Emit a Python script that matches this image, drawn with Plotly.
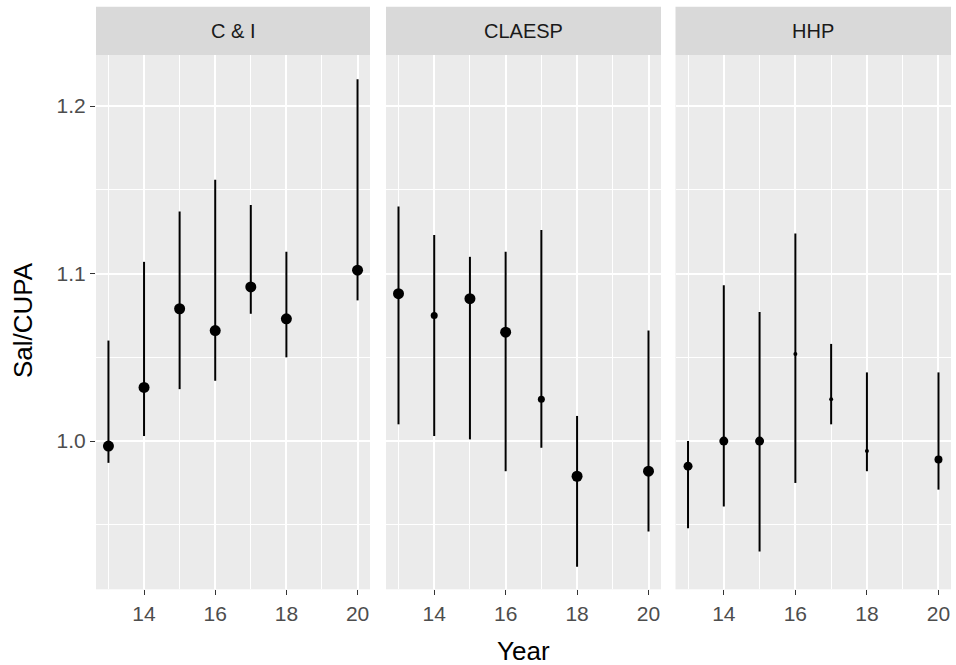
import plotly.graph_objects as go

# ---- data ----
panels = ["C & I", "CLAESP", "HHP"]

ci_year = [13, 14, 15, 16, 17, 18, 20]
ci_mid = [0.997, 1.032, 1.079, 1.066, 1.092, 1.073, 1.102]
ci_low = [0.987, 1.003, 1.031, 1.036, 1.076, 1.050, 1.084]
ci_high = [1.060, 1.107, 1.137, 1.156, 1.141, 1.113, 1.216]
ci_size = [11, 11, 11, 11, 11, 11, 11]

cl_year = [13, 14, 15, 16, 17, 18, 20]
cl_mid = [1.088, 1.075, 1.085, 1.065, 1.025, 0.979, 0.982]
cl_low = [1.010, 1.003, 1.001, 0.982, 0.996, 0.925, 0.946]
cl_high = [1.140, 1.123, 1.110, 1.113, 1.126, 1.015, 1.066]
cl_size = [11, 7, 11, 11, 7, 11, 11]

hh_year = [13, 14, 15, 16, 17, 18, 20]
hh_mid = [0.985, 1.000, 1.000, 1.052, 1.025, 0.994, 0.989]
hh_low = [0.948, 0.961, 0.934, 0.975, 1.010, 0.982, 0.971]
hh_high = [1.000, 1.093, 1.077, 1.124, 1.058, 1.041, 1.041]
hh_size = [9, 9, 9, 4, 4, 4, 8]

series = [
    (ci_year, ci_mid, ci_low, ci_high, ci_size),
    (cl_year, cl_mid, cl_low, cl_high, cl_size),
    (hh_year, hh_mid, hh_low, hh_high, hh_size),
]

x_ticks = [14, 16, 18, 20]
y_ticks = [1.0, 1.1, 1.2]

# ---- layout geometry ----
W, H = 956, 665
px_domains = [(96, 370), (386, 661), (675.5, 951)]
plot_top, plot_bot = 55, 589.3
strip_top = 6.7
y_dom = [1 - plot_bot / H, 1 - plot_top / H]

FONT = "Liberation Sans, Arial, sans-serif"

fig = go.Figure()
for i, (yr, mid, lo, hi, sz) in enumerate(series):
    ax = "" if i == 0 else str(i + 1)
    fig.add_trace(go.Scatter(
        x=yr, y=mid, mode="markers",
        marker=dict(color="black", size=sz, opacity=1, line=dict(width=0)),
        opacity=1,
        error_y=dict(type="data", symmetric=False,
                     array=[h - m for h, m in zip(hi, mid)],
                     arrayminus=[m - l for m, l in zip(mid, lo)],
                     width=0, thickness=2, color="black"),
        xaxis="x" + ax, yaxis="y" + ax, showlegend=False,
        hoverinfo="x+y",
    ))

layout = dict(
    width=W, height=H,
    margin=dict(l=0, r=0, t=0, b=0),
    paper_bgcolor="white", plot_bgcolor="#EBEBEB",
    font=dict(family=FONT, color="#4D4D4D"),
    showlegend=False,
)

shapes = []
annotations = []
for i, (x0, x1) in enumerate(px_domains):
    ax = "" if i == 0 else str(i + 1)
    xd = [x0 / W, x1 / W]
    layout["xaxis" + ax] = dict(
        domain=xd, range=[12.65, 20.35], anchor="y" + ax,
        tickmode="array", tickvals=x_ticks, ticktext=[str(v) for v in x_ticks],
        showgrid=True, gridcolor="white", gridwidth=1.6,
        minor=dict(tickmode="array", tickvals=[13, 15, 17, 19], showgrid=True,
                   gridcolor="white", gridwidth=0.8, ticks=""),
        ticks="outside", ticklen=5, tickwidth=1.3, tickcolor="#333333",
        tickfont=dict(size=21, color="#4D4D4D", family=FONT),
        zeroline=False, showline=False, fixedrange=True,
    )
    layout["yaxis" + ax] = dict(
        domain=y_dom, range=[0.9115, 1.2305], anchor="x" + ax,
        tickmode="array", tickvals=y_ticks,
        ticktext=["1.0", "1.1", "1.2"] if i == 0 else ["", "", ""],
        showgrid=True, gridcolor="white", gridwidth=1.6,
        minor=dict(tickmode="array", tickvals=[0.95, 1.05, 1.15], showgrid=True,
                   gridcolor="white", gridwidth=0.8, ticks=""),
        ticks="outside" if i == 0 else "", ticklen=5, tickwidth=1.3,
        tickcolor="#333333",
        tickfont=dict(size=21, color="#4D4D4D", family=FONT),
        showticklabels=(i == 0),
        zeroline=False, showline=False, fixedrange=True,
    )
    shapes.append(dict(type="rect", xref="paper", yref="paper",
                       x0=xd[0], x1=xd[1], y0=y_dom[1], y1=1 - strip_top / H,
                       fillcolor="#D9D9D9", line=dict(width=0), layer="below"))
    annotations.append(dict(text=panels[i], xref="paper", yref="paper",
                            x=(xd[0] + xd[1]) / 2, y=1 - 31 / H,
                            xanchor="center", yanchor="middle", showarrow=False,
                            font=dict(size=20, color="#1A1A1A", family=FONT)))

annotations.append(dict(text="Year", xref="paper", yref="paper",
                        x=523 / W, y=1 - 651 / H, xanchor="center", yanchor="middle",
                        showarrow=False, font=dict(size=26, color="black", family=FONT)))
annotations.append(dict(text="Sal/CUPA", xref="paper", yref="paper",
                        x=23 / W, y=1 - 320 / H, xanchor="center", yanchor="middle",
                        textangle=-90, showarrow=False,
                        font=dict(size=26, color="black", family=FONT)))

layout["shapes"] = shapes
layout["annotations"] = annotations
fig.update_layout(**layout)
fig.write_html("out.html")
